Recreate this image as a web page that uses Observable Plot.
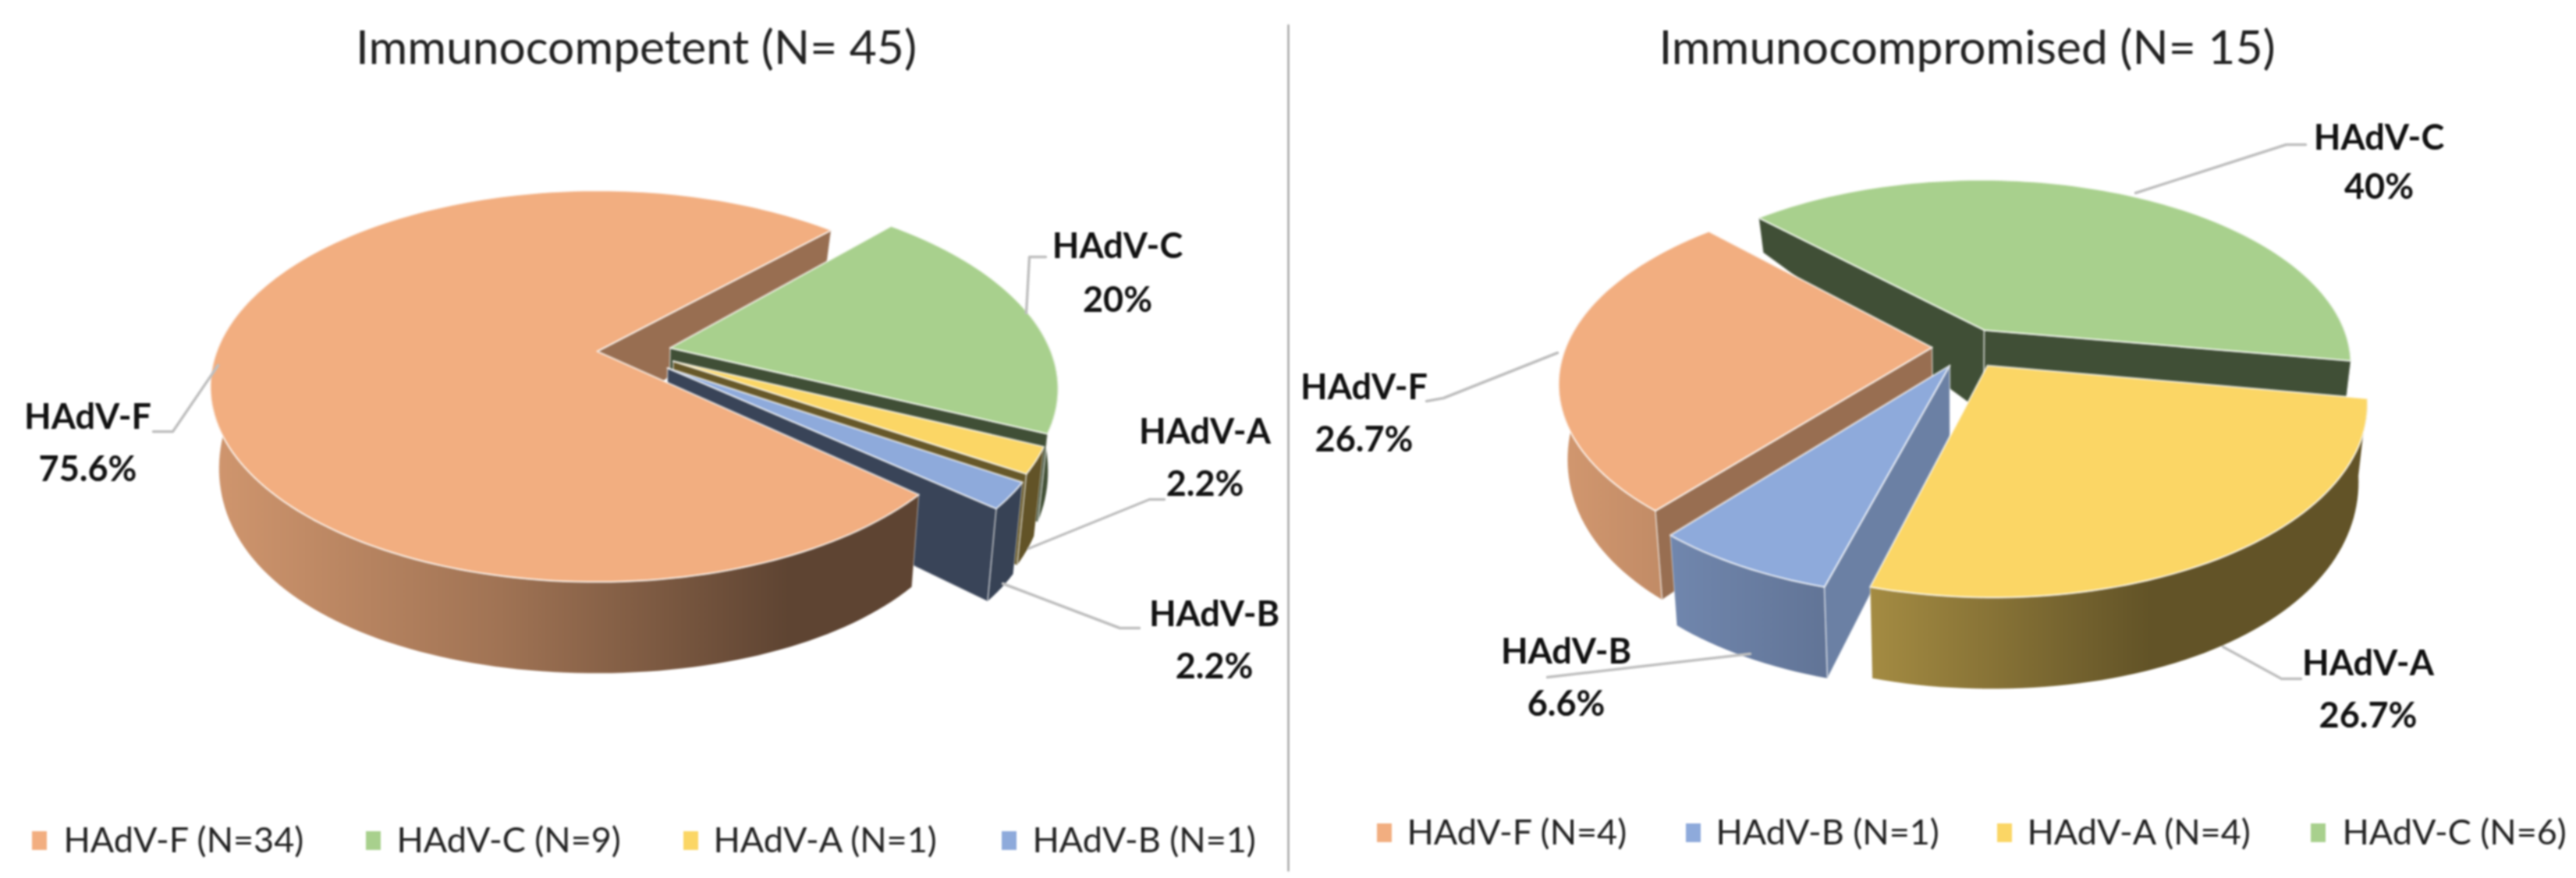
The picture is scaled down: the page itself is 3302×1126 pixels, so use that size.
<!DOCTYPE html>
<html>
<head>
<meta charset="utf-8">
<style>html,body{margin:0;padding:0;background:#fff}svg{display:block;max-width:none!important;filter:blur(0.9px)}</style>
<script src="https://cdn.jsdelivr.net/npm/d3@7"></script>
<script src="https://cdn.jsdelivr.net/npm/@observablehq/plot@0.6"></script>
</head>
<body>
<div id="chart"></div>
<script>
// ---- data ----
const leftTitle = "Immunocompetent (N= 45)";
const leftGroups = ["HAdV-F", "HAdV-C", "HAdV-A", "HAdV-B"];
const leftCounts = [34, 9, 1, 1];
const leftPercents = ["75.6%", "20%", "2.2%", "2.2%"];

const rightTitle = "Immunocompromised (N= 15)";
const rightGroups = ["HAdV-F", "HAdV-B", "HAdV-A", "HAdV-C"];
const rightCounts = [4, 1, 4, 6];
const rightPercents = ["26.7%", "6.6%", "26.7%", "40%"];

const groupColors = {"HAdV-F": "#F2AE80", "HAdV-C": "#A8D08D", "HAdV-A": "#FBD665", "HAdV-B": "#8EAADB"};

// ---- layout (picture geometry, not data) ----
const W = 3302, H = 1126, FONT = "Lato, Carlito, 'Open Sans', sans-serif";
const pies = [
  {
    id: "L", groups: leftGroups, counts: leftCounts, percents: leftPercents, title: leftTitle, titleX: 815,
    cx: 771, cy: 453, R: 489, Ry: 244, k: 0.179, bt: 550, bRy: 295, bk: 0.07,
    start: 41, dir: 1, paint: ["C", "A", "B", "F"],
    slice: {
      "HAdV-F": {off: [-0.012, -0.012], r: 1, face: 0.63, rot: 0.8},
      "HAdV-C": {off: [0.18, -0.03], r: 1, face: 0.38},
      "HAdV-A": {off: [0.186, 0.04], r: 0.97, face: 0.41},
      "HAdV-B": {off: [0.17, 0.075], r: 0.97, face: 0.4}
    },
    backFace: "HAdV-F",
    labels: {
      "HAdV-F": [112, 535, 602], "HAdV-C": [1432, 316, 385],
      "HAdV-A": [1544, 554, 621], "HAdV-B": [1556, 788, 855]
    },
    leaders: [
      [[279, 468], [221, 553], [196, 553]],
      [[1315, 401], [1319, 329], [1340, 329]],
      [[1318, 703], [1473, 640], [1492, 640]],
      [[1285, 748], [1435, 805], [1460, 805]]
    ],
    legendY: 1078,
    legendSwatch: [41, 469, 876, 1284],
    legendText: [81, 508, 914, 1323]
  },
  {
    id: "R", groups: rightGroups, counts: rightCounts, percents: rightPercents, title: rightTitle, titleX: 2521,
    cx: 2516, cy: 446, R: 470, Ry: 235, k: 0.18, bt: 534, bRy: 281, bk: 0.11,
    start: 225.7, dir: -1, paint: ["C", "F", "B", "A"],
    slice: {
      "HAdV-F": {off: [-0.085, -0.004], r: 1, face: 0.63},
      "HAdV-B": {off: [-0.036, 0.093], r: 1, face: 0.75},
      "HAdV-A": {off: [0.065, 0.093], r: 1, face: 0.41},
      "HAdV-C": {off: [0.0585, -0.1], r: 1, face: 0.38, apexDrop: 24}
    },
    labels: {
      "HAdV-C": [3049, 177, 240], "HAdV-F": [1748, 497, 564],
      "HAdV-A": [3035, 851, 918], "HAdV-B": [2007, 836, 903]
    },
    leaders: [
      [[2737, 247], [2930, 185], [2955, 185]],
      [[2849, 829], [2924, 870], [2949, 870]],
      [[2243, 838], [1983, 868]],
      [[1996, 452], [1850, 510], [1828, 514]]
    ],
    legendY: 1068,
    legendSwatch: [1765, 2161, 2560, 2962],
    legendText: [1803, 2199, 2598, 3002]
  }
];

// ---- projection of a pie ----
const rad = Math.PI / 180;
function topPoint(p, u, v) {
  const den = 1 - p.k * v;
  return [p.cx + p.R * u / den, p.cy + p.Ry * v / den];
}
function bottomPoint(p, u, v) {
  const t = topPoint(p, u, v);
  return [p.cx + 0.978 * (t[0] - p.cx), p.bt + p.bRy * v / (1 - p.bk * v)];
}
function disc(s, a) {
  return [s.off[0] + s.r * Math.cos(a * rad), s.off[1] + s.r * Math.sin(a * rad)];
}
function arc(a0, a1) {
  const n = Math.max(2, Math.ceil(Math.abs(a1 - a0) / 1.5));
  return d3.range(n + 1).map(i => a0 + (a1 - a0) * i / n);
}
function poly(pts, o) {
  return Plot.line([...pts, pts[0]], {x: d => d[0], y: d => d[1], strokeLinejoin: "round", ...o});
}
function shade(col, m) {
  const c = d3.rgb(col);
  return d3.rgb(c.r * m, c.g * m, c.b * m).formatHex();
}

// compute angle spans from the counts
function spans(p) {
  const total = d3.sum(p.counts);
  let a = p.start;
  const out = {};
  p.groups.forEach((g, i) => {
    const sweep = 360 * p.counts[i] / total;
    const b = a + p.dir * sweep;
    let lo = Math.min(a, b), hi = Math.max(a, b);
    if (lo > 200) { lo -= 360; hi -= 360; }
    if (hi < -40) { lo += 360; hi += 360; }
    const rot = p.slice[g].rot || 0;
    out[g] = [lo + rot, hi + rot];
    a = b;
  });
  return out;
}

const marks = [];
const gradients = [];

function faceMark(p, g, s, a) {
  const o = s.off;
  const t = disc(s, a);
  const ab = bottomPoint(p, o[0], o[1]);
  ab[1] += s.apexDrop || 0;
  const q = [topPoint(p, o[0], o[1]), topPoint(p, t[0], t[1]), bottomPoint(p, t[0], t[1]), ab];
  return poly(q, {fill: shade(groupColors[g], s.face), stroke: "#fff", strokeOpacity: 0.45, strokeWidth: 2});
}

for (const p of pies) {
  const sp = spans(p);
  const order = p.paint.map(x => "HAdV-" + x);
  if (p.backFace) {
    const s = p.slice[p.backFace], [lo, hi] = sp[p.backFace];
    marks.push(faceMark(p, p.backFace, s, hi));
  }
  for (const g of order) {
    const s = p.slice[g], [lo, hi] = sp[g];
    // outer wall, shaded from left to right across the whole pie
    const w0 = Math.max(lo, -10), w1 = Math.min(hi, 200);
    if (w1 > w0) {
      const angles = arc(w0, w1);
      const tops = angles.map(a => { const d = disc(s, a); return topPoint(p, d[0], d[1]); });
      const bots = angles.map(a => { const d = disc(s, a); return bottomPoint(p, d[0], d[1]); }).reverse();
      const id = `wall-${p.id}-${g}`;
      gradients.push({id, x0: p.cx - 500, x1: p.cx + 240, col: groupColors[g]});
      marks.push(poly([...tops, ...bots], {fill: `url(#${id})`, stroke: "#fff", strokeOpacity: 0.35, strokeWidth: 1.5}));
    }
    // cut faces seen from above the front
    if (!(p.backFace === g)) {
      if (-Math.cos(lo * rad) > 0) marks.push(faceMark(p, g, s, lo));
      if (Math.cos(hi * rad) > 0) marks.push(faceMark(p, g, s, hi));
    }
    // top surface
    const apex = topPoint(p, s.off[0], s.off[1]);
    const rim = arc(lo, hi).map(a => { const d = disc(s, a); return topPoint(p, d[0], d[1]); });
    marks.push(poly([apex, ...rim], {fill: groupColors[g], stroke: "#fff", strokeOpacity: 0.6, strokeWidth: 2.5}));
  }
  // leader lines
  for (const l of p.leaders) {
    marks.push(Plot.line(l, {x: d => d[0], y: d => d[1], stroke: "#bfbfbf", strokeWidth: 3.5}));
  }
  // data labels
  const lab = p.groups.map((g, i) => ({g, pct: p.percents[i], pos: p.labels[g]}));
  const labelStyle = {fontFamily: FONT, fontWeight: 700, fontSize: 45, fill: "#111", textAnchor: "middle", lineAnchor: "middle"};
  marks.push(Plot.text(lab, {x: d => d.pos[0], y: d => d.pos[1], text: d => d.g, ...labelStyle}));
  marks.push(Plot.text(lab, {x: d => d.pos[0], y: d => d.pos[2], text: d => d.pct, ...labelStyle}));
  // title
  marks.push(Plot.text([p.title], {x: () => p.titleX, y: () => 62, text: d => d, fontFamily: FONT, fontSize: 60.5, fill: "#222", textAnchor: "middle", lineAnchor: "middle"}));
  // legend
  const leg = p.groups.map((g, i) => ({g, n: p.counts[i], sx: p.legendSwatch[i], tx: p.legendText[i]}));
  marks.push(Plot.rect(leg, {x1: d => d.sx, x2: d => d.sx + 19, y1: () => p.legendY - 12, y2: () => p.legendY + 12, fill: d => groupColors[d.g]}));
  marks.push(Plot.text(leg, {x: d => d.tx, y: () => p.legendY, text: d => `${d.g} (N=${d.n})`, fontFamily: FONT, fontSize: 45, fill: "#222", textAnchor: "start", lineAnchor: "middle"}));
}
// divider between the two panels
marks.push(Plot.line([[1651, 32], [1651, 1116]], {x: d => d[0], y: d => d[1], stroke: "#a6a6a6", strokeWidth: 2.5}));

const svg = Plot.plot({
  width: W, height: H,
  marginTop: 0, marginRight: 0, marginBottom: 0, marginLeft: 0,
  x: {domain: [0, W], range: [0, W], axis: null},
  y: {domain: [0, H], range: [0, H], axis: null},
  style: {background: "#fff"},
  marks
});

// gradients used by the pie walls
const defs = d3.select(svg).insert("defs", ":first-child");
for (const g of gradients) {
  const lg = defs.append("linearGradient").attr("id", g.id).attr("gradientUnits", "userSpaceOnUse")
    .attr("x1", g.x0).attr("x2", g.x1).attr("y1", 0).attr("y2", 0);
  [[0, 0.86], [0.5, 0.66], [1, 0.39]].forEach(([o, m]) =>
    lg.append("stop").attr("offset", o).attr("stop-color", shade(g.col, m)));
}
document.getElementById("chart").appendChild(svg);
</script>
</body>
</html>
